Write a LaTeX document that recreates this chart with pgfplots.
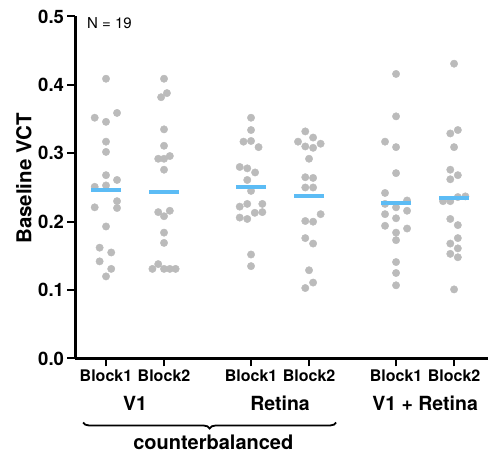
\documentclass[border=0pt]{standalone}
\usepackage{pgfplots}
\pgfplotsset{compat=1.18}
\usepackage{fontspec}
\setmainfont{TeX Gyre Heros}
\usetikzlibrary{decorations.pathreplacing}
\definecolor{dotgray}{RGB}{187,187,187}
\definecolor{meanblue}{RGB}{92,188,245}

\begin{document}
\begin{tikzpicture}
\begin{axis}[
  scale only axis, width=412.5pt, height=342pt,
  xmin=-0.526, xmax=6.585, ymin=0, ymax=0.5,
  axis x line*=bottom, axis y line*=left,
  axis line style={line width=2.4pt},
  xtick={0,1,2.5,3.5,5,6},
  xticklabels={Block1,Block2,Block1,Block2,Block1,Block2},
  ytick={0,0.1,0.2,0.3,0.4,0.5},
  yticklabel style={/pgf/number format/fixed, /pgf/number format/fixed zerofill, /pgf/number format/precision=1},
  /pgf/number format/assume math mode=true,
  tick align=outside, major tick length=8pt,
  tick style={line width=2pt, black},
  y tick label style={font=\fontsize{18.5}{18.5}\selectfont\bfseries},
  x tick label style={font=\fontsize{16}{16}\selectfont\bfseries},
  ylabel={Baseline VCT},
  ylabel style={font=\fontsize{20.5}{20.5}\selectfont\bfseries, at={(axis description cs:-0.125,0.526)}, anchor=center},
  clip=false,
]
% individual subjects
\addplot[only marks, mark=*, mark size=3.7pt, mark options={draw=dotgray, fill=dotgray}] coordinates {
  (0,0.409) (-0.195,0.352) (0.19,0.359) (0,0.346) (0,0.317) (0,0.302) (0,0.268)
  (0.19,0.261) (-0.195,0.251) (0,0.253) (0.19,0.230) (0.19,0.220) (-0.195,0.221)
  (0,0.193) (-0.11,0.162) (0.09,0.155) (-0.11,0.142) (0.09,0.131) (0,0.120)
};
\addplot[only marks, mark=*, mark size=3.7pt, mark options={draw=dotgray, fill=dotgray}] coordinates {
  (1,0.409) (1.05,0.388) (0.95,0.382) (1,0.335) (1,0.311) (0.90,0.292) (1,0.292)
  (1.10,0.296) (1,0.276) (0.90,0.214) (1.10,0.216) (1,0.208) (1,0.184) (1,0.169)
  (0.90,0.138) (0.80,0.131) (1,0.131) (1.10,0.131) (1.20,0.131)
};
\addplot[only marks, mark=*, mark size=3.7pt, mark options={draw=dotgray, fill=dotgray}] coordinates {
  (2.5,0.352) (2.5,0.334) (2.37,0.317) (2.5,0.318) (2.63,0.309) (2.305,0.280)
  (2.435,0.278) (2.57,0.272) (2.435,0.261) (2.5,0.245) (2.305,0.222) (2.435,0.226)
  (2.695,0.226) (2.565,0.213) (2.695,0.214) (2.305,0.206) (2.435,0.204) (2.5,0.152) (2.5,0.135)
};
\addplot[only marks, mark=*, mark size=3.7pt, mark options={draw=dotgray, fill=dotgray}] coordinates {
  (3.435,0.332) (3.57,0.323) (3.31,0.317) (3.435,0.310) (3.57,0.308) (3.70,0.314)
  (3.5,0.292) (3.435,0.265) (3.57,0.264) (3.435,0.250) (3.57,0.250) (3.70,0.211)
  (3.435,0.201) (3.57,0.200) (3.435,0.176) (3.57,0.168) (3.5,0.129) (3.57,0.111) (3.435,0.103)
};
\addplot[only marks, mark=*, mark size=3.7pt, mark options={draw=dotgray, fill=dotgray}] coordinates {
  (5,0.416) (5,0.354) (4.81,0.317) (5,0.309) (5,0.271) (4.81,0.242) (4.81,0.226)
  (5,0.221) (5.19,0.231) (5.19,0.216) (4.81,0.211) (5,0.205) (4.81,0.194) (5.19,0.190)
  (5,0.184) (5,0.173) (5,0.141) (5,0.125) (5,0.107)
};
\addplot[only marks, mark=*, mark size=3.7pt, mark options={draw=dotgray, fill=dotgray}] coordinates {
  (6,0.431) (5.935,0.329) (6.065,0.334) (6,0.309) (5.935,0.276) (6.065,0.268)
  (5.935,0.262) (5.81,0.230) (5.935,0.230) (6.065,0.236) (6.195,0.237) (5.935,0.204)
  (6.065,0.195) (6.065,0.176) (5.935,0.168) (6.065,0.161) (5.935,0.153) (6.065,0.148) (6,0.101)
};
% means
\addplot[only marks, mark=-, mark size=15pt, meanblue, mark options={line width=4pt}] coordinates {
  (0,0.247) (1,0.244) (2.5,0.250) (3.5,0.238) (5,0.227) (6,0.234)
};

\node[font=\fontsize{15}{15}\selectfont, anchor=base west, inner sep=0pt] at ([xshift=11.5pt,yshift=-11.8pt]rel axis cs:0,1) {N = 19};

\node[font=\fontsize{19.5}{19.5}\selectfont\bfseries] at ([yshift=-44.5pt]axis cs:0.5,0) {V1};
\node[font=\fontsize{19.5}{19.5}\selectfont\bfseries] at ([yshift=-44.5pt]axis cs:3,0) {Retina};
\node[font=\fontsize{19.5}{19.5}\selectfont\bfseries] at ([yshift=-44.5pt]axis cs:5.5,0) {V1 + Retina};
\draw[decorate, decoration={brace, mirror, amplitude=6pt}, line width=1.8pt]
  ([yshift=-64pt]axis cs:-0.395,0) -- ([yshift=-64pt]axis cs:3.966,0);
\node[font=\fontsize{20}{20}\selectfont\bfseries] at ([yshift=-84pt]axis cs:1.85,0) {counterbalanced};
\end{axis}
\pgfresetboundingbox
\path ([xshift=-75.5pt,yshift=-94.5pt]current axis.south west) rectangle ([yshift=16.5pt]current axis.north east);
\end{tikzpicture}
\end{document}
